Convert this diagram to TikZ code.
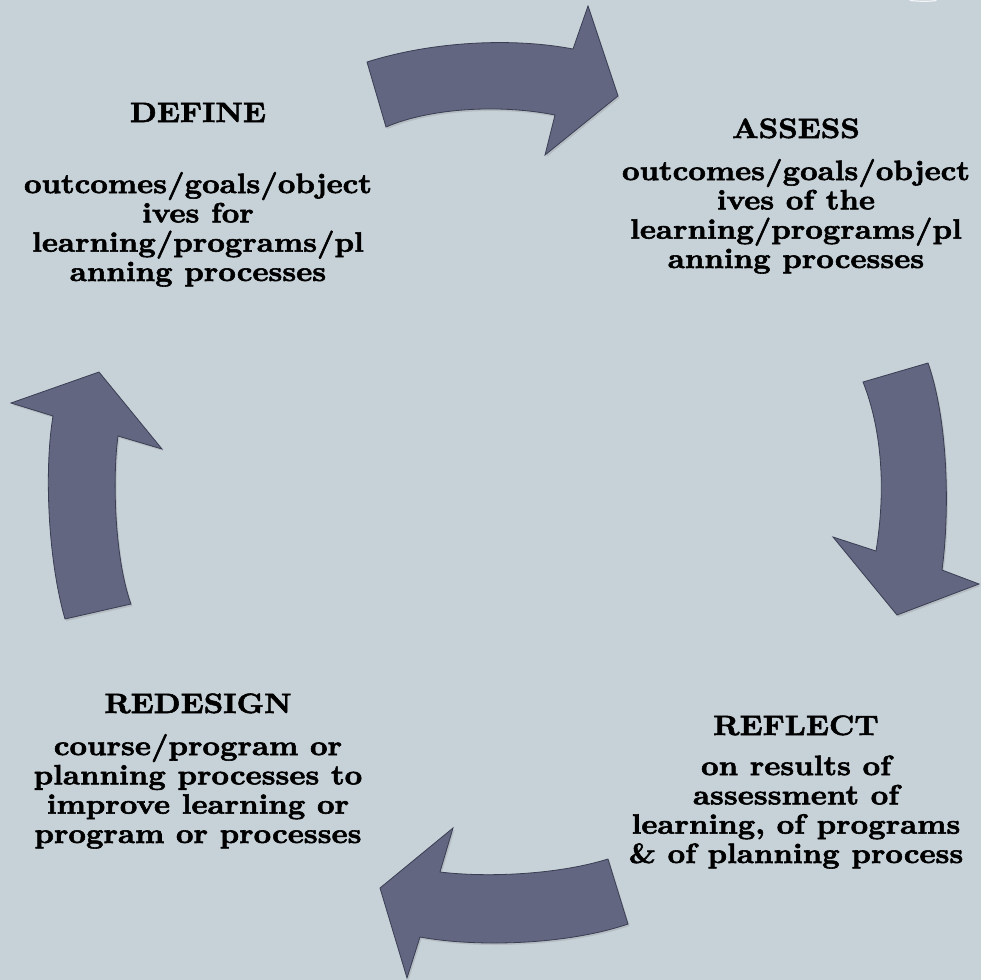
\documentclass[tikz,border=0pt]{standalone}
\usepackage{fontspec}
\newfontfamily\labfont{lmroman10-bold}[Extension=.otf, FakeStretch=1.09, FakeBold=2]
\usetikzlibrary{shadows}
\definecolor{bgcol}{HTML}{C6D1D8}
\definecolor{arrowfill}{HTML}{626681}
\definecolor{arrowline}{HTML}{3B3E52}
\begin{document}
\begin{tikzpicture}[x=1pt,y=-1pt,
  arrowshape/.style={fill=arrowfill, draw=arrowline, line width=0.8pt, line join=miter,
    drop shadow={opacity=0.25, shadow xshift=1.5pt, shadow yshift=-2pt}},
  headtext/.style={font=\labfont\fontsize{28}{31}\selectfont, inner sep=0pt, anchor=base, align=center},
  bodytext/.style={font=\labfont\fontsize{28}{29.3}\selectfont, inner sep=0pt, anchor=base, align=center}]
\useasboundingbox (0,0) rectangle (980,980);
\fill[bgcol] (-5,-5) rectangle (985,985);
% arrows
\draw[arrowshape] (367,62) .. controls (430,42) and (510,37) .. (573,49) -- (588,6) -- (618,96) -- (545,155) -- (555,115) .. controls (500,104) and (430,108) .. (386,127) -- cycle;
\draw[arrowshape] (863,382) -- (928,363) .. controls (948,420) and (950,510) .. (942,570) -- (979,584) -- (897,615) -- (833,537) -- (876,551) .. controls (886,490) and (882,430) .. (863,382) -- cycle;
\draw[arrowshape] (608,859) .. controls (560,874) and (490,878) .. (440,872) -- (453,828) -- (380,888) -- (407,978) -- (420,937) .. controls (480,948) and (570,944) .. (628,924) -- cycle;
\draw[arrowshape] (65,619) -- (131,604) .. controls (115,560) and (112,480) .. (118,436) -- (162,449) -- (99,372) -- (11,403) -- (53,416) .. controls (44,470) and (48,560) .. (65,619) -- cycle;
\draw[white, line width=1.2pt, opacity=0.8, line cap=round] (910,0.5) .. controls (920,1.5) and (930,1.5) .. (936,0.5);
% texts (body nodes: base anchor = last line baseline)
\node[headtext] (defh) at (198,122) {DEFINE};
\node[bodytext] (defb) at (198,281) {outcomes/goals/object\\ives for\\learning/programs/pl\\anning processes};
\node[headtext] (assh) at (796,138) {ASSESS};
\node[bodytext] (assb) at (796,268) {outcomes/goals/object\\ives of the\\learning/programs/pl\\anning processes};
\node[headtext] (refh) at (796,735) {REFLECT};
\node[bodytext] (refb) at (796,863) {on results of\\assessment of\\learning, of programs\\\& of planning process};
\node[headtext] (redh) at (198,713) {REDESIGN};
\node[bodytext] (redb) at (198,843) {course/program or\\planning processes to\\improve learning or\\program or processes};
\end{tikzpicture}
\end{document}
